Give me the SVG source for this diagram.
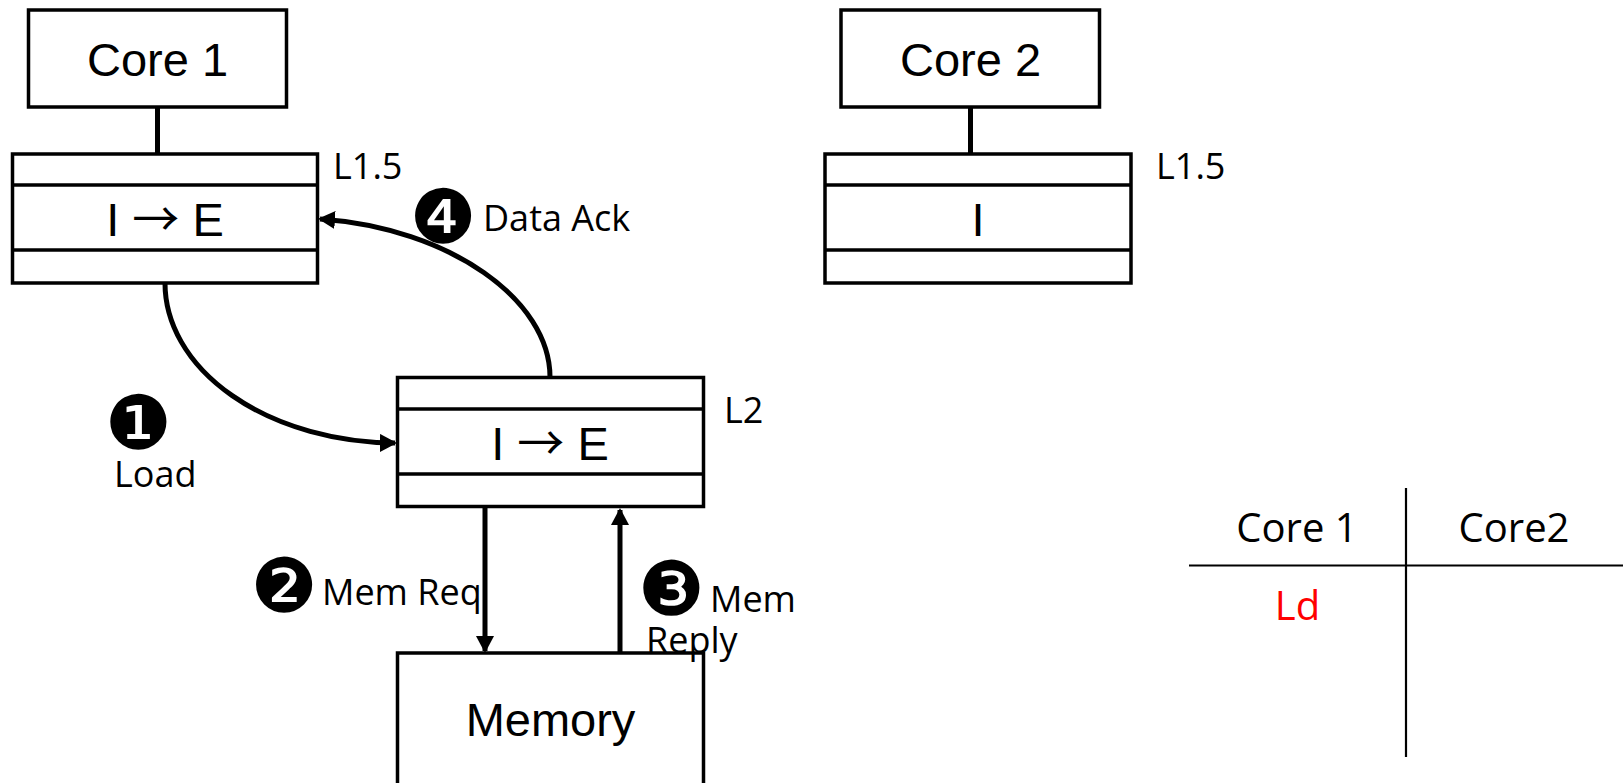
<svg xmlns="http://www.w3.org/2000/svg" width="1623" height="783" viewBox="0 0 1623 783">
<style>
.box{fill:#fff;stroke:#000;stroke-width:3.5}
.sep{stroke:#000;stroke-width:3.5}
.big{font-family:"Liberation Sans",Arial,sans-serif;font-size:47px;fill:#000;text-anchor:middle}
.arr{font-family:"Noto Sans CJK SC","DejaVu Sans",sans-serif;font-size:47px}
.lbl{font-family:"Open Sans","Noto Sans",sans-serif;font-size:36px;fill:#000}
.tbl{font-family:"Open Sans","Noto Sans",sans-serif;font-size:40px;fill:#000;text-anchor:middle}
.num{font-family:"DejaVu Sans",sans-serif;font-size:75px;fill:#000;text-anchor:middle}
.con{fill:none;stroke:#000;stroke-width:5}
.tl{stroke:#000;stroke-width:2.2}
</style>
<defs>
<marker id="ah" markerUnits="userSpaceOnUse" markerWidth="20" markerHeight="20" refX="15" refY="9" orient="auto">
<path d="M0,0 L17,9 L0,18 z" fill="#000"/>
</marker>
</defs>
<rect width="1623" height="783" fill="#fff"/>

<g id="connectors">
<line class="con" x1="157.5" y1="107" x2="157.5" y2="154"/>
<line class="con" x1="970.5" y1="107" x2="970.5" y2="154"/>
<path class="con" d="M165,283 A232,160 0 0 0 395,443" marker-end="url(#ah)"/>
<path class="con" d="M550,377 C550,300 450,228 320,219" marker-end="url(#ah)"/>
</g>

<g id="core1">
<rect class="box" x="28.5" y="10" width="258" height="97"/>
<text class="big" x="157.5" y="76">Core 1</text>
</g>
<g id="l15-core1">
<rect class="box" x="12.5" y="154" width="305" height="129"/>
<line class="sep" x1="12.5" y1="185" x2="317.5" y2="185"/>
<line class="sep" x1="12.5" y1="250" x2="317.5" y2="250"/>
<text class="big" x="165" y="236">I <tspan class="arr">→</tspan> E</text>
<text class="lbl" x="333" y="179">L1.5</text>
</g>

<g id="core2">
<rect class="box" x="841" y="10" width="258.5" height="97"/>
<text class="big" x="970.5" y="76">Core 2</text>
</g>
<g id="l15-core2">
<rect class="box" x="825" y="154" width="306" height="129"/>
<line class="sep" x1="825" y1="185" x2="1131" y2="185"/>
<line class="sep" x1="825" y1="250" x2="1131" y2="250"/>
<text class="big" x="978" y="236">I</text>
<text class="lbl" x="1156" y="179">L1.5</text>
</g>

<g id="l2">
<rect class="box" x="397.5" y="377.5" width="306" height="129"/>
<line class="sep" x1="397.5" y1="409" x2="703.5" y2="409"/>
<line class="sep" x1="397.5" y1="474" x2="703.5" y2="474"/>
<text class="big" x="550" y="460">I <tspan class="arr">→</tspan> E</text>
<text class="lbl" x="724" y="423">L2</text>
</g>

<g id="memory">
<rect class="box" x="397.5" y="653" width="306" height="140"/>
<text class="big" x="550.5" y="736">Memory</text>
</g>

<g id="labels">
<text class="num" x="443" y="243">❹</text>
<text class="lbl" x="483" y="231">Data Ack</text>
<text class="num" x="138" y="449">❶</text>
<text class="lbl" x="114" y="487">Load</text>
<text class="num" x="284" y="612">❷</text>
<text class="lbl" x="322" y="605">Mem Req</text>
<text class="num" x="671" y="615">❸</text>
<text class="lbl" x="710" y="612">Mem</text>
<text class="lbl" x="646" y="653">Reply</text>
</g>

<g id="memarrows">
<line class="con" x1="485" y1="507" x2="485" y2="651" marker-end="url(#ah)"/>
<line class="con" x1="620" y1="653" x2="620" y2="510" marker-end="url(#ah)"/>
</g>

<g id="table">
<line class="tl" x1="1406" y1="488" x2="1406" y2="757"/>
<line class="tl" x1="1189" y1="565.5" x2="1623" y2="565.5"/>
<text class="tbl" x="1297" y="542">Core 1</text>
<text class="tbl" x="1514" y="542">Core2</text>
<text class="tbl" x="1297.5" y="620" style="fill:#ff0000">Ld</text>
</g>
</svg>
